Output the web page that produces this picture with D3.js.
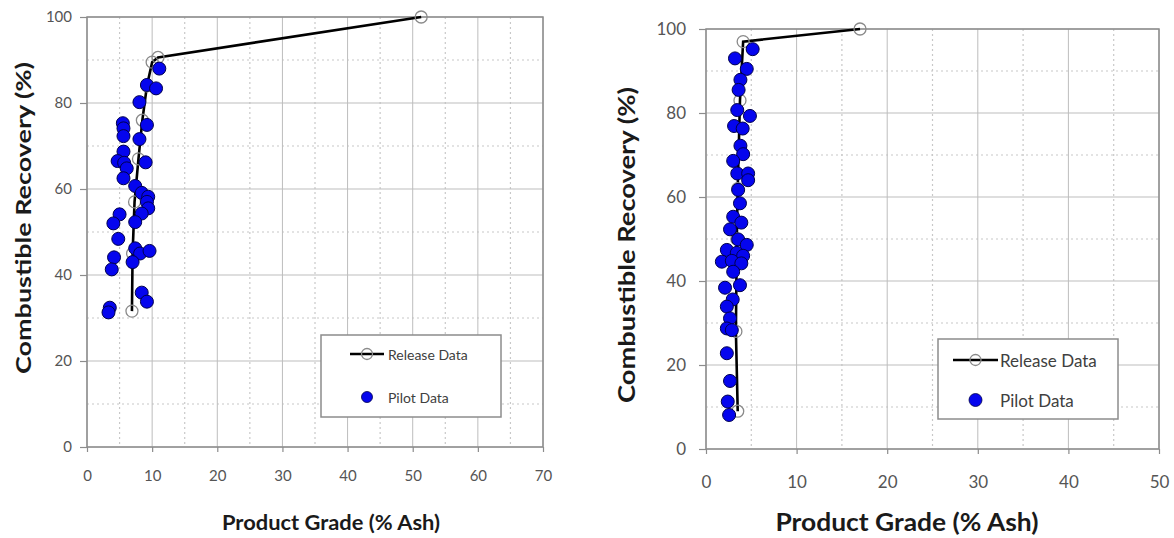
<!DOCTYPE html>
<html>
<head>
<meta charset="utf-8">
<script src="https://cdn.jsdelivr.net/npm/d3@7"></script>
<style>
  body { margin: 0; background: #fff; }
  svg { display: block; font-family: Lato, "Open Sans", sans-serif; }
</style>
</head>
<body>
<svg id="frame" width="1174" height="538"></svg>
<script>
// left chart
var leftReleaseX = [6.9, 7.0, 7.3, 7.9, 8.5, 9.2, 10.0, 10.9, 51.3];
var leftReleaseY = [31.6, 45, 57, 67, 76, 84, 89.5, 90.6, 100];
var leftPilotX = [11.1, 9.2, 10.6, 8.05, 9.2, 5.5, 5.6, 5.6, 8.05, 5.6, 4.7, 5.7, 6.1, 5.6, 9.0, 7.4, 8.4, 9.4, 9.2, 9.4, 8.4, 5.0, 4.05, 7.4, 4.8, 7.4, 8.15, 9.6, 4.15, 7.0, 3.8, 8.4, 9.2, 3.5, 3.3];
var leftPilotY = [88, 84.2, 83.4, 80.2, 74.9, 75.3, 74.1, 72.3, 71.6, 68.7, 66.5, 66.1, 64.8, 62.5, 66.2, 60.7, 59.1, 58.2, 57.0, 55.5, 54.3, 54.1, 52, 52.3, 48.4, 46.2, 45, 45.6, 44.1, 43, 41.3, 35.9, 33.8, 32.4, 31.3];
var leftXTicks = [0, 10, 20, 30, 40, 50, 60, 70];
var leftYTicks = [0, 20, 40, 60, 80, 100];

// right chart
var rightReleaseX = [3.5, 3.3, 3.4, 3.5, 3.75, 4.1, 17.0];
var rightReleaseY = [9, 28, 50, 62, 83, 97, 100];
var rightPilotX = [5.15, 3.2, 4.5, 3.8, 3.6, 3.45, 4.85, 3.1, 4.05, 3.8, 4.1, 3.0, 3.45, 4.65, 4.65, 3.55, 3.75, 3.0, 3.9, 2.65, 3.55, 4.5, 2.3, 3.4, 4.1, 1.75, 2.85, 3.9, 3.0, 2.1, 3.75, 2.95, 2.3, 2.65, 2.3, 2.85, 2.3, 2.65, 2.4, 2.55];
var rightPilotY = [95.2, 93, 90.5, 87.9, 85.5, 80.7, 79.3, 76.9, 76.3, 72.2, 70.2, 68.6, 65.6, 65.6, 64, 61.7, 58.5, 55.3, 53.9, 52.3, 49.9, 48.6, 47.4, 46.7, 46, 44.6, 44.8, 44.2, 42.2, 38.4, 39, 35.6, 33.9, 31.1, 28.7, 28.3, 22.8, 16.2, 11.3, 8.1];
var rightXTicks = [0, 10, 20, 30, 40, 50];
var rightYTicks = [0, 20, 40, 60, 80, 100];

var legendLabels = ["Release Data", "Pilot Data"];
var xTitle = "Product Grade (% Ash)";
var yTitle = "Combustible Recovery (%)";

var svg = d3.select("#frame");

function drawChart(c) {
  var x = d3.scaleLinear().domain([0, c.xMax]).range([c.left, c.right]);
  var y = d3.scaleLinear().domain([0, 100]).range([c.bottom, c.top]);
  var g = svg.append("g");

  // minor dotted grid
  var xMinor = d3.range(5, c.xMax, 10);
  var yMinor = d3.range(10, 100, 20);
  g.selectAll(".xminor").data(xMinor).enter().append("line")
    .attr("x1", d => x(d)).attr("x2", d => x(d))
    .attr("y1", c.top).attr("y2", c.bottom)
    .attr("stroke", "#c8c8c8").attr("stroke-width", 1.2).attr("stroke-dasharray", "2,3");
  g.selectAll(".yminor").data(yMinor).enter().append("line")
    .attr("x1", c.left).attr("x2", c.right)
    .attr("y1", d => y(d)).attr("y2", d => y(d))
    .attr("stroke", "#c8c8c8").attr("stroke-width", 1.2).attr("stroke-dasharray", "2,3");

  // major grid
  g.selectAll(".xmajor").data(c.xTicks).enter().append("line")
    .attr("x1", d => x(d)).attr("x2", d => x(d))
    .attr("y1", c.top).attr("y2", c.bottom)
    .attr("stroke", "#bdbdbd").attr("stroke-width", 1);
  g.selectAll(".ymajor").data(c.yTicks).enter().append("line")
    .attr("x1", c.left).attr("x2", c.right)
    .attr("y1", d => y(d)).attr("y2", d => y(d))
    .attr("stroke", "#bdbdbd").attr("stroke-width", 1);

  // frame
  g.append("rect")
    .attr("x", c.left).attr("y", c.top)
    .attr("width", c.right - c.left).attr("height", c.bottom - c.top)
    .attr("fill", "none").attr("stroke", "#8c8c8c").attr("stroke-width", 1.5);

  // axes
  var xAxis = d3.axisBottom(x).tickValues(c.xTicks).tickSize(5).tickPadding(c.xPad);
  var yAxis = d3.axisLeft(y).tickValues(c.yTicks).tickSize(7).tickPadding(c.yPad);
  var ax = g.append("g").attr("transform", "translate(0," + c.bottom + ")").call(xAxis);
  var ay = g.append("g").attr("transform", "translate(" + c.left + ",0)").call(yAxis);
  [ax, ay].forEach(function(a) {
    a.select(".domain").remove();
    a.selectAll(".tick line").attr("stroke", "#8c8c8c").attr("stroke-width", 1.2);
    a.selectAll(".tick text").attr("fill", "#555").attr("font-size", c.tickFont)
      .attr("font-family", "Lato, sans-serif");
  });

  // titles
  g.append("text")
    .attr("x", c.xTitleX).attr("y", c.xTitleY)
    .attr("text-anchor", "middle").attr("dominant-baseline", "central")
    .attr("font-size", c.titleFont).attr("font-weight", "bold").attr("fill", "#1a1a1a")
    .attr("textLength", c.xTitleLen).attr("lengthAdjust", "spacingAndGlyphs")
    .text(xTitle);
  g.append("text")
    .attr("transform", "translate(" + c.yTitleX + "," + c.yTitleY + ") rotate(-90)")
    .attr("text-anchor", "middle").attr("dominant-baseline", "central")
    .attr("font-size", c.yTitleFont).attr("font-weight", "bold").attr("fill", "#1a1a1a")
    .attr("textLength", c.yTitleLen).attr("lengthAdjust", "spacingAndGlyphs")
    .text(yTitle);

  // release line
  var rel = c.relX.map((d, i) => [d, c.relY[i]]);
  var line = d3.line().x(d => x(d[0])).y(d => y(d[1]));
  g.append("path").datum(rel).attr("d", line)
    .attr("fill", "none").attr("stroke", "#000").attr("stroke-width", 2.6);
  g.selectAll(".relpt").data(rel).enter().append("circle")
    .attr("cx", d => x(d[0])).attr("cy", d => y(d[1])).attr("r", 6)
    .attr("fill", "none").attr("stroke", "#8a8a8a").attr("stroke-width", 1.3);

  // pilot points
  var pil = c.pilX.map((d, i) => [d, c.pilY[i]]);
  g.selectAll(".pil").data(pil).enter().append("circle")
    .attr("cx", d => x(d[0])).attr("cy", d => y(d[1])).attr("r", c.dotR)
    .attr("fill", "#0505ee").attr("stroke", "#00004d").attr("stroke-width", 1);

  // legend
  var L = c.legend;
  g.append("rect").attr("x", L.x).attr("y", L.y).attr("width", L.w).attr("height", L.h)
    .attr("fill", "#fff").attr("stroke", "#8c8c8c").attr("stroke-width", 1.5);
  g.append("line").attr("x1", L.lineX1).attr("x2", L.lineX2)
    .attr("y1", L.row1).attr("y2", L.row1)
    .attr("stroke", "#000").attr("stroke-width", 2.6);
  g.append("circle").attr("cx", (L.lineX1 + L.lineX2) / 2).attr("cy", L.row1).attr("r", 5.5)
    .attr("fill", "none").attr("stroke", "#8a8a8a").attr("stroke-width", 1.3);
  g.append("circle").attr("cx", (L.lineX1 + L.lineX2) / 2).attr("cy", L.row2).attr("r", L.dotR)
    .attr("fill", "#0505ee").attr("stroke", "#00004d").attr("stroke-width", 0.8);
  g.selectAll(".legtxt").data(legendLabels).enter().append("text")
    .attr("x", L.textX).attr("y", (d, i) => i == 0 ? L.row1 : L.row2)
    .attr("dominant-baseline", "central")
    .attr("font-size", L.font).attr("fill", "#404040")
    .text(d => d);
}

drawChart({
  xMax: 70, left: 87, right: 543, top: 17, bottom: 447,
  xTicks: leftXTicks, yTicks: leftYTicks,
  xPad: 18, yPad: 8, tickFont: "15px",
  xTitleX: 331, xTitleY: 521, xTitleLen: 218, titleFont: "21px",
  yTitleX: 22, yTitleY: 218, yTitleLen: 312, yTitleFont: "21px",
  relX: leftReleaseX, relY: leftReleaseY,
  pilX: leftPilotX, pilY: leftPilotY, dotR: 6.5,
  legend: { x: 321, y: 335, w: 180, h: 82, lineX1: 350, lineX2: 384, row1: 354, row2: 397,
            textX: 388, font: "14px", dotR: 5.5 }
});

drawChart({
  xMax: 50, left: 706, right: 1159, top: 29, bottom: 449,
  xTicks: rightXTicks, yTicks: rightYTicks,
  xPad: 22, yPad: 13, tickFont: "17px",
  xTitleX: 907, xTitleY: 521, xTitleLen: 263, titleFont: "24px",
  yTitleX: 626, yTitleY: 245, yTitleLen: 316, yTitleFont: "23px",
  relX: rightReleaseX, relY: rightReleaseY,
  pilX: rightPilotX, pilY: rightPilotY, dotR: 6.5,
  legend: { x: 938, y: 339, w: 180, h: 80, lineX1: 953, lineX2: 998, row1: 360, row2: 400,
            textX: 1000, font: "17px", dotR: 6.5 }
});
</script>
</body>
</html>
